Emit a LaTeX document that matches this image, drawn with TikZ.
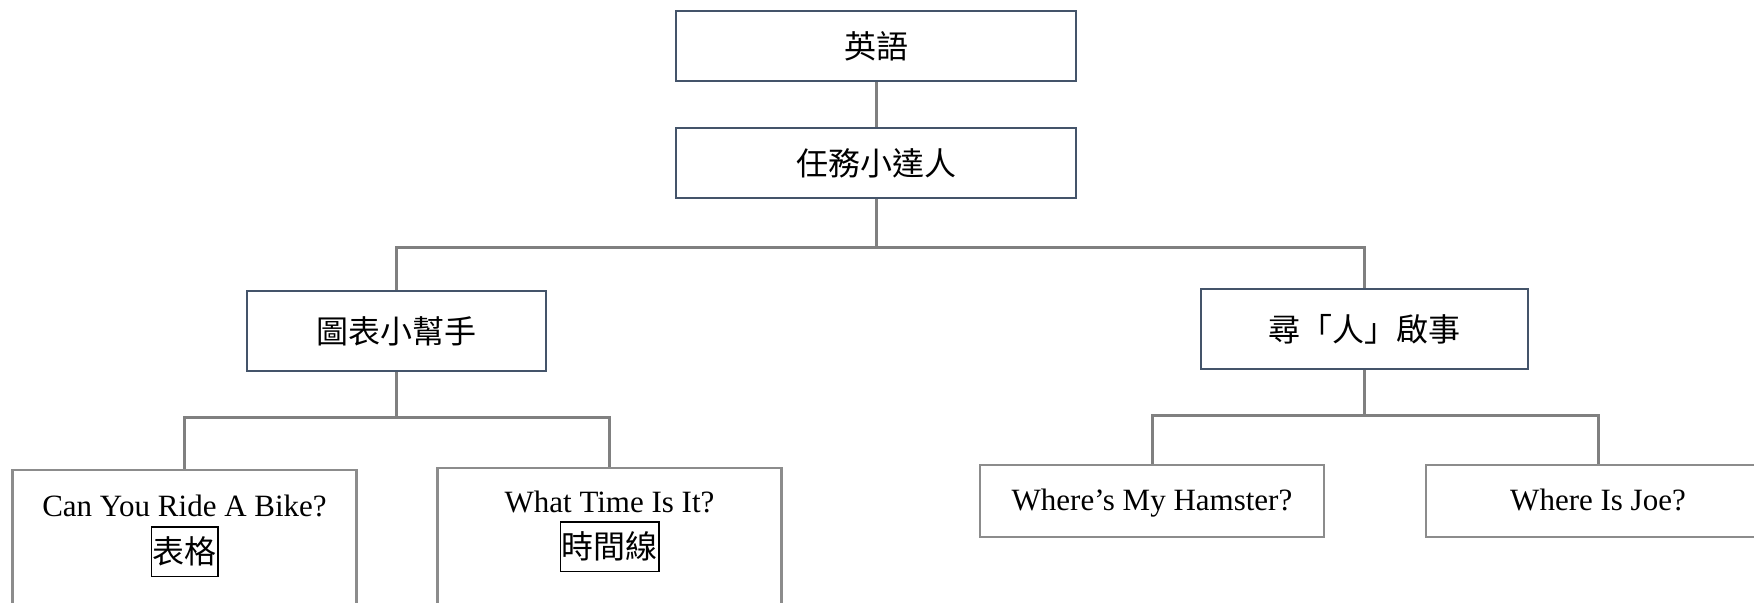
\documentclass[tikz,border=0pt]{standalone}
\usepackage{fontspec}
\setmainfont{Liberation Serif}
\newfontfamily\cjk{Noto Sans CJK TC}
\usetikzlibrary{positioning}
\definecolor{framedark}{RGB}{68,84,106}
\definecolor{framegray}{RGB}{140,140,140}
\definecolor{linkgray}{RGB}{128,128,128}
\begin{document}
\begin{tikzpicture}[x=0.5pt, y=-0.5pt,
  topbox/.style={draw=framedark, line width=1.2pt, fill=white, minimum height=35pt, font=\cjk\fontsize{16}{19}\selectfont},
  leafbox/.style={draw=framegray, line width=1.2pt, fill=white, minimum width=172pt},
  leaftext/.style={font=\fontsize{15.5}{18}\selectfont, inner sep=0pt},
  tagbox/.style={draw=black, line width=0.8pt, inner xsep=0.6pt, inner ysep=5pt, font=\cjk\fontsize{16}{19}\selectfont},
  link/.style={draw=linkgray, line width=1.5pt}]
\useasboundingbox (0,0) rectangle (1754,602);
\clip (0,0) rectangle (1754,602);
% Upper levels
\node[topbox, minimum width=200pt] (eng) at (876,46) {英語};
\node[topbox, minimum width=200pt] (task) at (876,163) {任務小達人};
\node[topbox, minimum width=149.5pt, minimum height=40pt] (chart) at (396.5,331) {圖表小幫手};
\node[topbox, minimum width=163.5pt, minimum height=40pt] (seek) at (1364.5,329) {尋「人」啟事};
% Leaf boxes (cut by the page edge)
\node[leafbox, minimum height=90pt] (bike) at (184.5,560) {};
\node[leafbox, minimum height=90pt] (time) at (609.5,558) {};
\node[leafbox, minimum height=36pt, text height=13pt, text depth=3.4pt, font=\fontsize{15.5}{18}\selectfont] (hamster) at (1152,501) {Where’s My Hamster?};
\node[leafbox, minimum height=36pt, text height=13pt, text depth=3.4pt, font=\fontsize{15.5}{18}\selectfont] (joe) at (1598,501) {Where Is Joe?};
% Texts in the two tall boxes
\node[leaftext] (bikeT) at ([yshift=-18.5pt]bike.north) {Can You Ride A Bike?};
\node[tagbox] (bikeTag) at ([yshift=-41.5pt]bike.north) {表格};
\node[tagbox] (timeTag) at ([yshift=-40pt]time.north) {時間線};
\node[leaftext] (timeT) at ([yshift=-17.5pt]time.north) {What Time Is It?};
% Connectors
\path (task.south) ++(0,48) coordinate (bus);
\path (chart.south) ++(0,45) coordinate (lbus);
\path (seek.south) ++(0,45) coordinate (rbus);
\draw[link] (eng) -- (task);
\draw[link] (task) -- (bus);
\draw[link] (chart.north) |- (bus) -| (seek.north);
\draw[link] (chart) -- (lbus);
\draw[link] (bike.north) |- (lbus) -| (time.north);
\draw[link] (seek) -- (rbus);
\draw[link] (hamster.north) |- (rbus) -| (joe.north);
\end{tikzpicture}
\end{document}
